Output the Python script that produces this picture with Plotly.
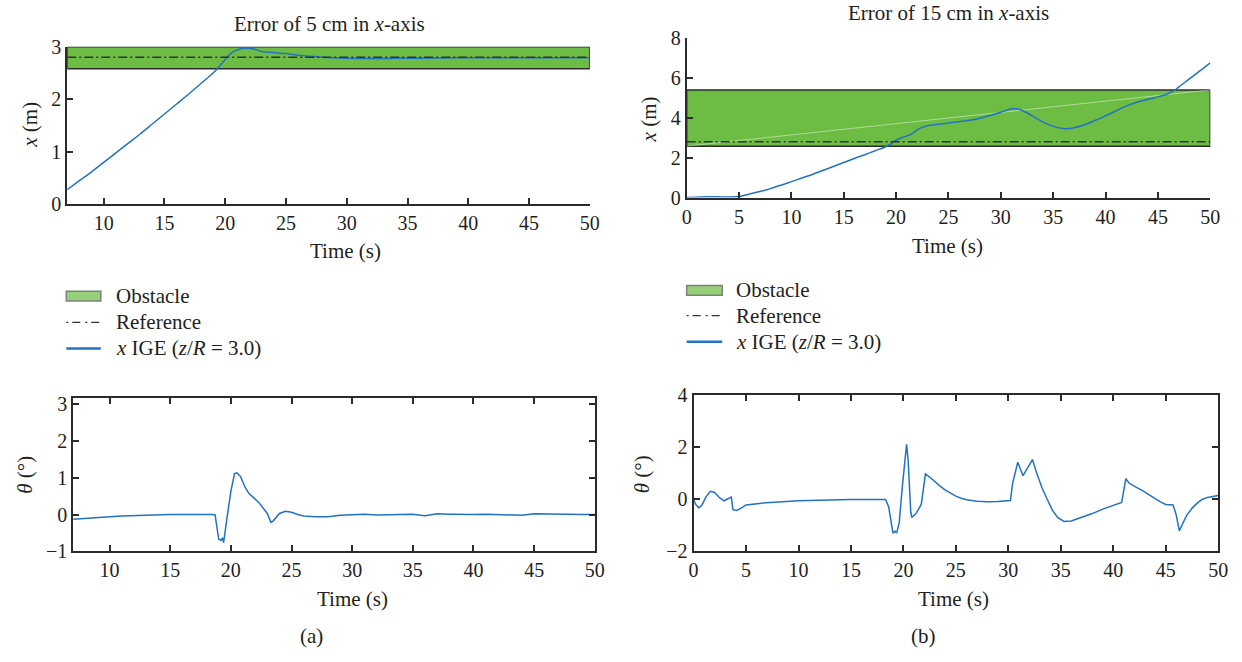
import plotly.graph_objects as go

# ---------------- data ----------------
# (a) top: x position, t = 7..50
t_xa = [7, 8, 9, 10, 11, 12, 13, 14, 15, 16, 17, 18, 19, 19.5, 20, 20.5, 21, 21.5, 22, 22.5,
        23, 24, 25, 26, 27, 28, 29, 30, 32, 34, 36, 40, 45, 50]
x_a = [0.28, 0.45, 0.62, 0.80, 0.98, 1.16, 1.34, 1.53, 1.72, 1.91, 2.10, 2.30, 2.50, 2.62, 2.76,
       2.88, 2.94, 2.97, 2.97, 2.95, 2.91, 2.89, 2.87, 2.84, 2.82, 2.80, 2.79, 2.78, 2.775, 2.78,
       2.78, 2.79, 2.79, 2.79]
obst_a = [2.58, 3.0]
ref_a = 2.8

# (b) top: x position, t = 0..50
t_xb = [0, 1, 2, 3, 4, 5, 6, 7, 8, 9, 10, 11, 12, 13, 14, 15, 16, 17, 18, 19, 19.5, 20, 20.5, 21,
        21.5, 22, 22.5, 23, 24, 25, 26, 27, 28, 29, 30, 31, 31.5, 32, 33, 34, 35, 36, 37, 38, 39,
        40, 41, 42, 43, 44, 45, 46, 46.7, 47, 48, 49, 50]
x_b = [0.0, 0.02, 0.04, 0.04, 0.03, 0.05, 0.18, 0.30, 0.45, 0.62, 0.80, 0.98, 1.16, 1.36, 1.56,
       1.76, 1.96, 2.15, 2.35, 2.55, 2.70, 2.88, 3.00, 3.08, 3.20, 3.40, 3.52, 3.60, 3.68, 3.74,
       3.80, 3.88, 3.98, 4.12, 4.28, 4.45, 4.45, 4.38, 4.10, 3.80, 3.57, 3.46, 3.50, 3.65, 3.87,
       4.10, 4.35, 4.60, 4.78, 4.92, 5.05, 5.22, 5.42, 5.55, 5.95, 6.35, 6.76]
obst_b = [2.58, 5.4]
ref_b = 2.8

# (a) bottom: pitch angle, t = 7..50
t_ta = [7, 8, 9, 10, 11, 13, 15, 18.5, 18.7, 19.0, 19.2, 19.3, 19.4, 19.7, 20.0, 20.3, 20.5,
        20.8, 21.2, 21.5, 22.3, 23.0, 23.3, 23.5, 24.0, 24.5, 25.0, 25.5, 26, 27, 28, 29, 30, 31,
        32, 33, 34, 35, 36, 37, 38, 39, 40, 41, 42, 43, 44, 45, 46, 47, 48, 49, 50]
th_a = [-0.13, -0.1, -0.08, -0.06, -0.04, -0.02, 0.0, 0.0, -0.01, -0.67, -0.70, -0.63, -0.76,
        -0.05, 0.63, 1.11, 1.13, 1.03, 0.72, 0.57, 0.33, 0.03, -0.21, -0.17, 0.03, 0.09, 0.06,
        0.0, -0.04, -0.06, -0.06, -0.02, 0.0, 0.01, -0.01, 0.0, 0.0, 0.01, -0.03, 0.02, 0.01,
        0.0, 0.0, 0.01, 0.0, 0.0, -0.02, 0.02, 0.01, 0.0, 0.0, 0.0, 0.0]

# (b) bottom: pitch angle, t = 0..50
t_tb = [0, 0.2, 0.5, 0.8, 1.2, 1.6, 2.0, 2.5, 2.9, 3.3, 3.6, 3.75, 4.1, 4.5, 5, 6.5, 8, 10, 13,
        15, 18.3, 18.6, 19.0, 19.2, 19.35, 19.6, 19.9, 20.2, 20.3, 20.45, 20.7, 20.8, 21.2, 21.7,
        22.1, 22.5, 23, 23.5, 24, 24.5, 25, 25.5, 26, 27, 28, 29, 30, 30.2, 30.4, 30.9, 31.4,
        32.3, 32.7, 33.2, 33.7, 34.2, 34.7, 35.3, 36, 37, 38, 39, 40, 40.8, 41.2, 41.5, 42, 42.5,
        43, 43.5, 44, 44.5, 45, 45.7, 46.0, 46.3, 46.6, 47, 47.5, 48, 48.5, 49, 50]
th_b = [0.0, -0.2, -0.33, -0.22, 0.1, 0.3, 0.26, 0.05, -0.06, 0.03, 0.08, -0.4, -0.43, -0.35,
        -0.22, -0.15, -0.1, -0.06, -0.03, -0.01, -0.01, -0.3, -1.3, -1.22, -1.3, -0.9, 0.5, 1.9,
        2.1, 1.5, -0.5, -0.7, -0.55, -0.2, 0.97, 0.85, 0.66, 0.5, 0.35, 0.22, 0.12, 0.04, -0.02,
        -0.08, -0.1, -0.09, -0.07, -0.05, 0.6, 1.42, 0.9, 1.52, 1.0, 0.45, 0.0, -0.42, -0.7,
        -0.85, -0.83, -0.7, -0.55, -0.38, -0.24, -0.12, 0.79, 0.62, 0.5, 0.4, 0.28, 0.15, 0.02,
        -0.1, -0.2, -0.22, -0.6, -1.21, -0.95, -0.62, -0.35, -0.15, 0.0, 0.07, 0.14]

legend_labels = ["Obstacle", "Reference", "<i>x</i> IGE (<i>z</i>/<i>R</i> = 3.0)"]

# ---------------- styling ----------------
W, H = 1242, 662
FONT = "Liberation Serif"
TXT = "#231f20"
AX = "#2b2b2b"
BLUE = "#2272c3"
GREEN = "#6dbd45"
GREEN_LEG = "#95cf78"
FS_TICK = 20
FS_TXT = 21


def px_x(a, b):
    return [a / W, b / W]


def px_y(top, bottom):
    return [1 - bottom / H, 1 - top / H]


fig = go.Figure()


def add_top(xa, ya, t, xv, obst, ref, t0, t1, diag=False):
    fig.add_trace(go.Scatter(x=[t0, t1, t1, t0, t0], y=[obst[0], obst[0], obst[1], obst[1], obst[0]],
                             fill="toself", fillcolor=GREEN, mode="lines",
                             line=dict(color=AX, width=1.5), xaxis=xa, yaxis=ya,
                             showlegend=False, hoverinfo="skip"))
    if diag:
        fig.add_trace(go.Scatter(x=[t0, t1], y=[obst[0], obst[1]], mode="lines",
                                 line=dict(color="rgba(255,255,255,0.45)", width=1),
                                 xaxis=xa, yaxis=ya, showlegend=False, hoverinfo="skip"))
    fig.add_trace(go.Scatter(x=t, y=xv, mode="lines", line=dict(color=BLUE, width=1.5, shape="spline"),
                             xaxis=xa, yaxis=ya, showlegend=False))
    fig.add_trace(go.Scatter(x=[t0, t1], y=[ref, ref], mode="lines",
                             line=dict(color="#333333", width=1.5, dash="9px,3px,2px,3px"),
                             xaxis=xa, yaxis=ya, showlegend=False))


def add_bottom(xa, ya, t, th):
    fig.add_trace(go.Scatter(x=t, y=th, mode="lines", line=dict(color=BLUE, width=1.5),
                             xaxis=xa, yaxis=ya, showlegend=False))


add_top("x", "y", t_xa, x_a, obst_a, ref_a, 7, 50)
add_top("x2", "y2", t_xb, x_b, obst_b, ref_b, 0, 50, diag=True)
add_bottom("x3", "y3", t_ta, th_a)
add_bottom("x4", "y4", t_tb, th_b)

tickfont = dict(family=FONT, size=FS_TICK, color=TXT)
common = dict(showline=True, linecolor=AX, linewidth=2, ticks="inside", ticklen=6,
              tickwidth=2, tickcolor=AX, showgrid=False, zeroline=False, tickfont=tickfont)

fig.update_layout(
    width=W, height=H, margin=dict(l=0, r=0, t=0, b=0),
    paper_bgcolor="white", plot_bgcolor="white", showlegend=False,
    font=dict(family=FONT, size=FS_TXT, color=TXT),
    xaxis=dict(domain=px_x(63, 592), range=[7, 50], tickvals=[10, 15, 20, 25, 30, 35, 40, 45, 50],
               anchor="y", **common),
    yaxis=dict(domain=px_y(37, 200), range=[0, 3], tickvals=[0, 1, 2, 3], anchor="x", **common),
    xaxis2=dict(domain=px_x(690, 1220), range=[0, 50], tickvals=list(range(0, 51, 5)),
                anchor="y2", **common),
    yaxis2=dict(domain=px_y(28, 193), range=[0, 8], tickvals=[0, 2, 4, 6, 8], anchor="x2", **common),
    xaxis3=dict(domain=px_x(69, 597), range=[7, 50], tickvals=[10, 15, 20, 25, 30, 35, 40, 45, 50],
                anchor="y3", mirror="ticks", **common),
    yaxis3=dict(domain=px_y(400, 559), range=[-1, 3.17], tickvals=[-1, 0, 1, 2, 3], anchor="x3",
                mirror="ticks", **common),
    xaxis4=dict(domain=px_x(697, 1228), range=[0, 50], tickvals=list(range(0, 51, 5)),
                anchor="y4", mirror="ticks", **common),
    yaxis4=dict(domain=px_y(397, 559), range=[-2, 4], tickvals=[-2, 0, 2, 4], anchor="x4",
                mirror="ticks", **common),
)


# ---------------- hand-drawn legends ----------------
def add_legend(x0, x1, y_rows, text_x):
    yo, yr, yb = y_rows
    fig.add_shape(type="rect", xref="paper", yref="paper", x0=x0 / W, x1=x1 / W,
                  y0=1 - (yo + 5) / H, y1=1 - (yo - 5) / H,
                  fillcolor=GREEN_LEG, line=dict(color="#808080", width=1.5))
    fig.add_shape(type="line", xref="paper", yref="paper", x0=x0 / W, x1=x1 / W,
                  y0=1 - yr / H, y1=1 - yr / H,
                  line=dict(color="#333333", width=1.3, dash="2px,4px,8px,5px"))
    fig.add_shape(type="line", xref="paper", yref="paper", x0=x0 / W, x1=x1 / W,
                  y0=1 - yb / H, y1=1 - yb / H, line=dict(color=BLUE, width=2.5))
    for lab, yy in zip(legend_labels, y_rows):
        fig.add_annotation(text=lab, x=text_x / W, y=1 - yy / H, xref="paper", yref="paper",
                           showarrow=False, xanchor="left", yanchor="middle",
                           font=dict(family=FONT, size=FS_TXT, color=TXT))


add_legend(62, 97, (295, 322, 349), 110)
add_legend(690, 726, (289, 315, 342), 738)

ann = [
    ("Error of 5 cm in <i>x</i>-axis", 328, 13, 0),
    ("Error of 15 cm in <i>x</i>-axis", 955, 2, 0),
    ("Time (s)", 345, 248, 0),
    ("Time (s)", 954, 243, 0),
    ("Time (s)", 352, 608, 0),
    ("Time (s)", 960, 608, 0),
    ("(a)", 310, 647, 0),
    ("(b)", 930, 647, 0),
    ("<i>x</i> (m)", 25, 118, -90),
    ("<i>x</i> (m)", 652, 112, -90),
    ("<i>θ</i> (°)", 20, 480, -90),
    ("<i>θ</i> (°)", 645, 479, -90),
]
for text, ax_, ay_, rot in ann:
    fig.add_annotation(text=text, x=ax_ / W, y=1 - ay_ / H, xref="paper", yref="paper",
                       showarrow=False, textangle=rot, xanchor="center", yanchor="middle",
                       font=dict(family=FONT, size=FS_TXT, color=TXT))

fig.write_html("out.html")
